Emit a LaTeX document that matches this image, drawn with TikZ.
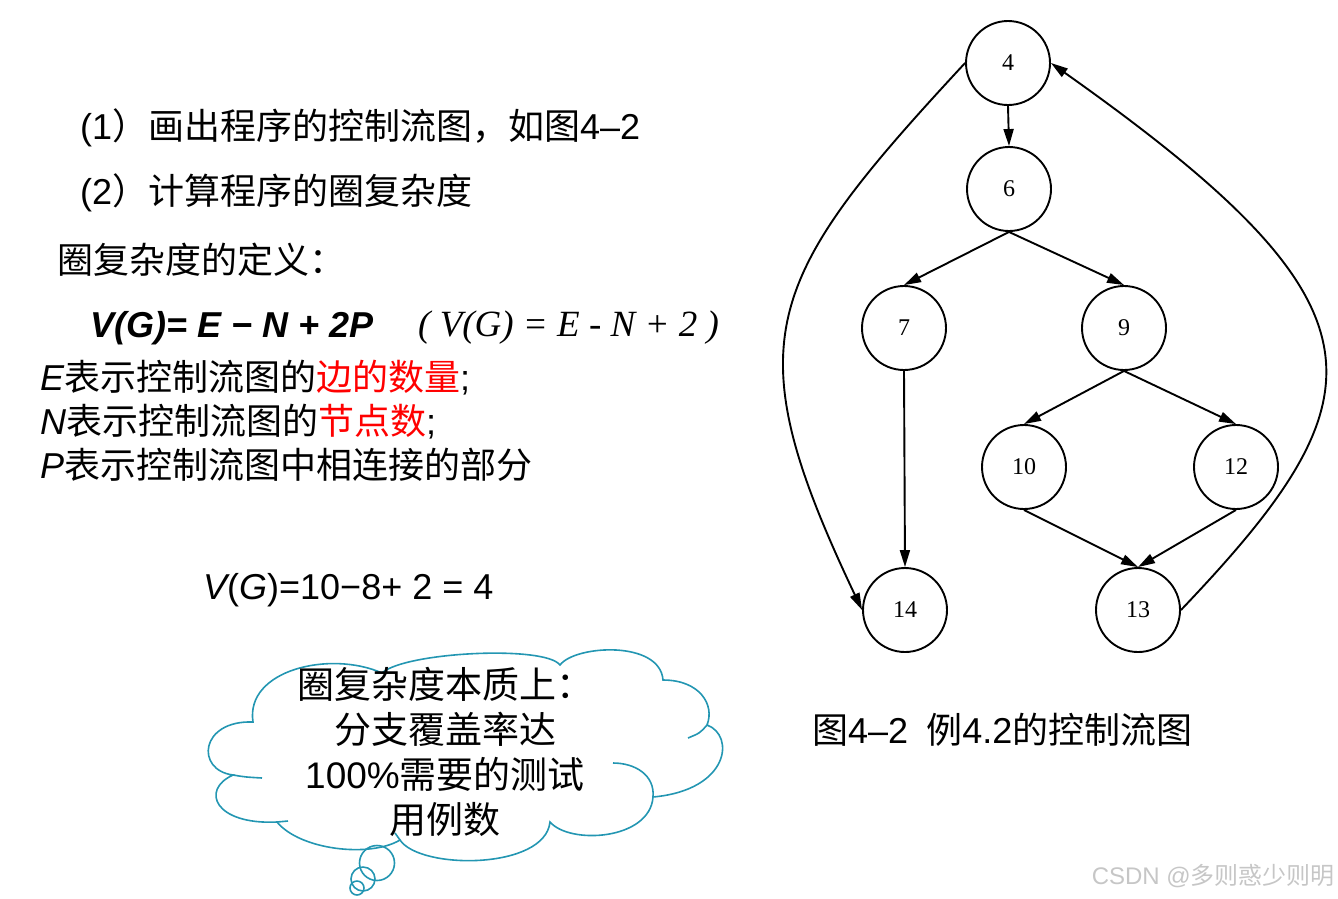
\documentclass[tikz,border=0pt]{standalone}
\usepackage{fontspec}
\setmainfont{Liberation Sans}
\newfontfamily\cjk{Noto Sans CJK SC}
\newfontfamily\timesfont{Liberation Serif}
\usetikzlibrary{arrows.meta}
\definecolor{cloudblue}{RGB}{35,150,178}

\begin{document}
\begin{tikzpicture}[x=1pt,y=-1pt]
	\tikzstyle{line} = [anchor=west, inner sep=0pt, font={\fontsize{36}{40}\selectfont}];
	\tikzstyle{state} = [draw, circle, line width=1.9pt, minimum size=84pt, inner sep=0pt, font={\timesfont\fontsize{24}{26}\selectfont}];
	\tikzstyle{flow} = [-{Triangle[length=17pt,width=10pt]}, line width=1.9pt];
	\tikzstyle{cloudline} = [draw=cloudblue, line width=1.6pt];
	\tikzstyle{puff} = [cloudline, circle, inner sep=0pt];

	\useasboundingbox (0,0) rectangle (1338,898);

	\node[line] (step1) at (80,128) {(1{\cjk ）画出程序的控制流图，如图}4–2};
	\node[line] (step2) at (80,193) {(2{\cjk ）计算程序的圈复杂度}};
	\node[line] (defn) at (57,260) {\cjk 圈复杂度的定义：};
	\node[line] (vg) at (90,328) {\bfseries\itshape V(G)= E − N + 2P};
	\node[line, font={\timesfont\itshape\fontsize{37}{40}\selectfont}] (vg2) at (418,328) {( V(G) = E - N + 2 )};
	\node[line] (edges) at (40,378) {\itshape E\upshape{\cjk 表示控制流图的\textcolor{red}{边的数量}}\upshape;};
	\node[line] (nodes) at (40,422) {\itshape N\upshape{\cjk 表示控制流图的\textcolor{red}{节点数}};};
	\node[line] (parts) at (40,465) {\itshape P\upshape{\cjk 表示控制流图中相连接的部分}};
	\node[line] (result) at (203,590) {\itshape V\upshape(\itshape G\upshape)=10−8+ 2 = 4};

	\draw[cloudline] (253,722) .. controls (245,670) and (330,650) .. (382,673)
		.. controls (405,652) and (545,645) .. (560,665)
		.. controls (575,645) and (660,640) .. (663,680)
		.. controls (700,680) and (715,705) .. (707,725)
		.. controls (735,735) and (730,790) .. (653,797)
		.. controls (650,840) and (570,845) .. (550,822)
		.. controls (545,870) and (420,870) .. (400,840)
		.. controls (370,858) and (300,850) .. (277,822)
		.. controls (215,825) and (200,790) .. (233,775)
		.. controls (195,770) and (200,720) .. (253,722) -- cycle;
	\draw[cloudline] (653,797) .. controls (655,775) and (635,763) .. (613,763);
	\draw[cloudline] (707,725) .. controls (700,733) .. (688,738);
	\draw[cloudline] (233,775) .. controls (245,777) .. (262,778);
	\draw[cloudline] (277,822) .. controls (282,821) .. (288,821);
	\draw[cloudline] (400,840) .. controls (397,837) .. (395,833);
	\node[puff, minimum size=35pt] (b1) at (377,863) {};
	\node[puff, minimum size=24pt] (b2) at (363,879) {};
	\node[puff, minimum size=14pt] (b3) at (357,888) {};
	\node[align=center, inner sep=0pt, font={\fontsize{37}{45}\selectfont}] (essence) at (445,752) {{\cjk 圈复杂度本质上：}\\{\cjk 分支覆盖率达}\\100\%{\cjk 需要的测试}\\{\cjk 用例数}};

	\node[line] (caption) at (812,730) {{\cjk 图}4–2\hspace{18pt}{\cjk 例}4.2{\cjk 的控制流图}};
	\node[anchor=east, inner sep=0pt, text=gray!45, font={\fontsize{24}{28}\selectfont}] (mark) at (1335,876) {CSDN @{\cjk 多则惑少则明}};

	\node[state] (4) at (1008,63) {4};
	\node[state] (6) at (1009,189) {6};
	\node[state] (7) at (904,328) {7};
	\node[state] (9) at (1124,328) {9};
	\node[state] (10) at (1024,467) {10};
	\node[state] (12) at (1236,467) {12};
	\node[state] (14) at (905,610) {14};
	\node[state] (13) at (1138,610) {13};

	\draw[flow] (4.south) -- (6.north);
	\draw[flow] (6.south) -- (7.north);
	\draw[flow] (6.south) -- (9.north);
	\draw[flow] (9.south) -- (10.north);
	\draw[flow] (9.south) -- (12.north);
	\draw[flow] (10.south) -- (13.north);
	\draw[flow] (12.south) -- (13.north);
	\draw[flow] (7.south) -- (14.north);
	\draw[flow] (4.west) .. controls (762,282) and (734,340) .. (14.west);
	\draw[flow] (13.east) .. controls (1387,394) and (1396,307) .. (4.east);
\end{tikzpicture}
\end{document}
